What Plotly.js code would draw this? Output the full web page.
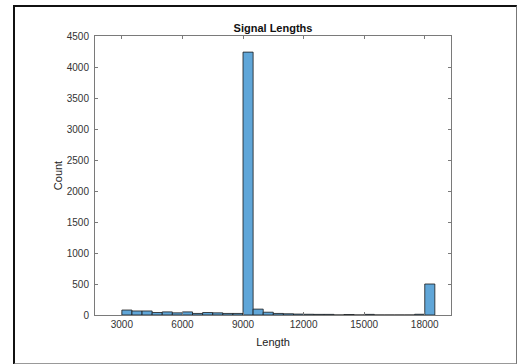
<!DOCTYPE html>
<html>
<head>
<meta charset="utf-8">
<script src="https://cdn.plot.ly/plotly-3.0.1.min.js"></script>
<style>
  html, body { margin: 0; padding: 0; background: #fff; }
  #wrap { position: relative; width: 518px; height: 364px; }
  #chart { position: absolute; left: 0; top: 0; width: 518px; height: 364px; }
  #frame { position: absolute; left: 13px; top: 5px; width: 501px; height: 356px;
           border-left: 2px solid #111; border-top: 2px solid #111;
           border-right: 1px solid #777; border-bottom: 2px solid #999; pointer-events: none; }
</style>
</head>
<body>
<div id="wrap">
  <div id="chart"></div>
  <div id="frame"></div>
</div>
<script>
// Bin left edges (signal length), bin width 500
const binStarts = [3000, 3500, 4000, 4500, 5000, 5500, 6000, 6500, 7000, 7500, 8000, 8500,
                   9000, 9500, 10000, 10500, 11000, 11500, 12000, 12500, 13000, 13500,
                   14000, 14500, 15000, 15500, 16000, 16500, 17000, 17500, 18000];
const counts = [80, 65, 65, 40, 50, 35, 50, 25, 40, 35, 25, 25,
                4240, 95, 45, 25, 20, 15, 12, 10, 10, 0,
                8, 0, 10, 0, 0, 0, 0, 12, 500];
const binWidth = 500;
const xTicks = [3000, 6000, 9000, 12000, 15000, 18000];
const yTicks = [0, 500, 1000, 1500, 2000, 2500, 3000, 3500, 4000, 4500];

const centers = binStarts.map(b => b + binWidth / 2);

const trace = {
  type: 'bar',
  x: centers,
  y: counts,
  width: binWidth,
  marker: { color: 'rgb(96,166,216)', line: { color: '#1a1a1a', width: 0.8 } },
  hoverinfo: 'x+y'
};

const axisCommon = {
  showline: true, linecolor: '#7a7a7a', linewidth: 1,
  mirror: 'ticks', ticks: 'inside', ticklen: 3, tickcolor: '#7a7a7a',
  showgrid: false, zeroline: false,
  tickfont: { family: 'Liberation Sans, Arial, sans-serif', size: 10, color: '#333' }
};

const layout = {
  width: 518, height: 364,
  margin: { l: 95, r: 67, t: 36, b: 49 },
  paper_bgcolor: '#fff', plot_bgcolor: '#fff',
  showlegend: false,
  bargap: 0,
  title: { text: '<b>Signal Lengths</b>', x: 0.5, xref: 'paper', y: 1, yref: 'paper', yanchor: 'bottom', pad: { b: 4 },
           font: { family: 'Liberation Sans, Arial, sans-serif', size: 11, color: '#111' } },
  xaxis: Object.assign({}, axisCommon, {
    range: [1670, 19300], tickvals: xTicks, ticktext: xTicks.map(String),
    title: { text: 'Length', standoff: 9, font: { family: 'Liberation Sans, Arial, sans-serif', size: 11, color: '#222' } }
  }),
  yaxis: Object.assign({}, axisCommon, {
    range: [0, 4500], tickvals: yTicks, ticktext: yTicks.map(String),
    ticklabelstandoff: 3,
    title: { text: 'Count', standoff: 1, font: { family: 'Liberation Sans, Arial, sans-serif', size: 11, color: '#222' } }
  })
};

Plotly.newPlot('chart', [trace], layout, { displayModeBar: false, staticPlot: true });
</script>
</body>
</html>
